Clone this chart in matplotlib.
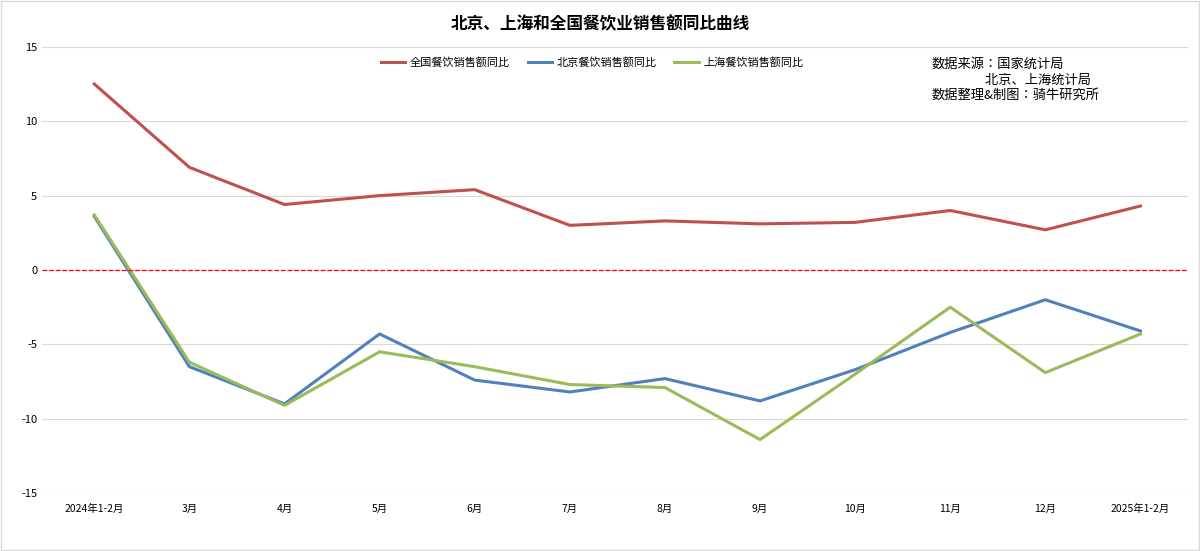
import matplotlib.pyplot as plt
from matplotlib import font_manager

names = {f.name for f in font_manager.fontManager.ttflist}
cjk = [n for n in ['Noto Sans CJK SC', 'Noto Sans CJK JP', 'Noto Sans CJK TC', 'Noto Sans CJK KR'] if n in names]
plt.rcParams['font.family'] = 'sans-serif'
plt.rcParams['font.sans-serif'] = cjk + ['DejaVu Sans']
plt.rcParams['axes.unicode_minus'] = False

months = ['2024年1-2月', '3月', '4月', '5月', '6月', '7月', '8月', '9月', '10月', '11月', '12月', '2025年1-2月']
national = [12.5, 6.9, 4.4, 5.0, 5.4, 3.0, 3.3, 3.1, 3.2, 4.0, 2.7, 4.3]
beijing = [3.6, -6.5, -9.0, -4.3, -7.4, -8.2, -7.3, -8.8, -6.7, -4.2, -2.0, -4.1]
shanghai = [3.7, -6.2, -9.1, -5.5, -6.5, -7.7, -7.9, -11.4, -7.0, -2.5, -6.9, -4.3]

fig = plt.figure(figsize=(12, 5.51), dpi=100)
ax = fig.add_axes([0.035, 0.105, 0.955, 0.81])
x = range(len(months))
ax.plot(x, national, color='#C0504D', lw=2.2, label='全国餐饮销售额同比')
ax.plot(x, beijing, color='#4F81BD', lw=2.2, label='北京餐饮销售额同比')
ax.plot(x, shanghai, color='#9BBB59', lw=2.2, label='上海餐饮销售额同比')
ax.axhline(0, color='red', ls='--', lw=0.9)

ax.set_ylim(-15, 15)
ax.set_yticks(range(-15, 16, 5))
ax.set_xlim(-0.55, 11.5)
ax.set_xticks(list(x))
ax.set_xticklabels(months, fontsize=7.5)
ax.tick_params(axis='y', labelsize=8, length=0)
ax.tick_params(axis='x', length=0, pad=8)
ax.grid(axis='y', color='#D9D9D9', lw=0.8)
for s in ax.spines.values():
    s.set_visible(False)
ax.set_axisbelow(True)

ax.legend(loc='upper center', bbox_to_anchor=(0.48, 1.0), ncol=3, frameon=False,
          fontsize=8, handlelength=2.2, handletextpad=0.4, columnspacing=1.6)
fig.text(0.5, 0.955, '北京、上海和全国餐饮业销售额同比曲线', ha='center', va='center',
         fontsize=12, fontweight='bold')
fig.text(0.776, 0.895, '数据来源：国家统计局\n                  北京、上海统计局\n数据整理&制图：骑牛研究所',
         ha='left', va='top', fontsize=9.5, linespacing=1.25)
fig.patches.append(plt.Rectangle((0.001, 0.001), 0.998, 0.998, transform=fig.transFigure,
                                 fill=False, edgecolor='#D9D9D9', lw=1))
fig.savefig('out.png')
